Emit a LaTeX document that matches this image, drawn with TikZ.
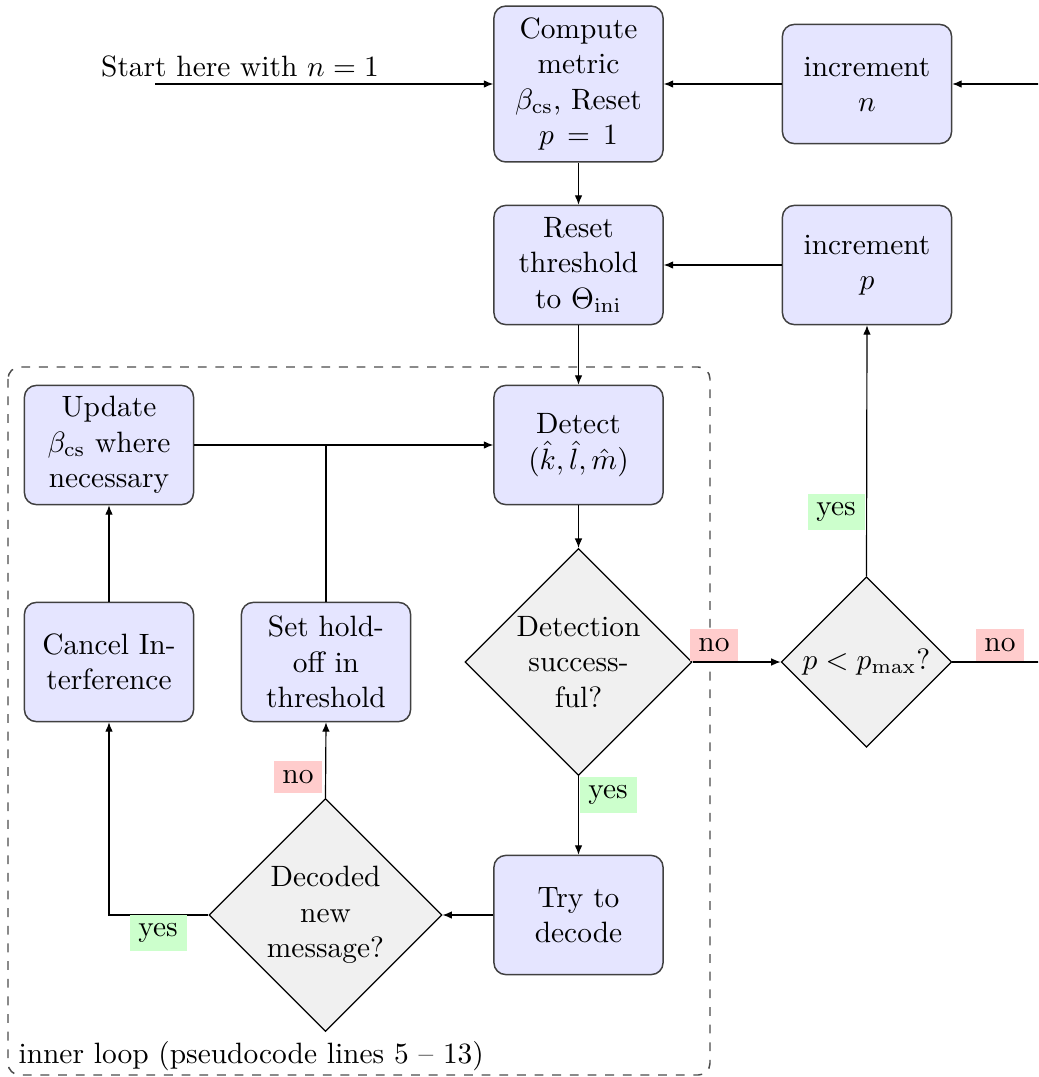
\documentclass[tikz,border=0pt]{standalone}
\usepackage{amsmath}
\usetikzlibrary{shapes.geometric,arrows.meta}
\begin{document}
\begin{tikzpicture}[x=0.34pt,y=-0.34pt,
  blk/.style={rectangle,rounded corners=4pt,draw=black!75,fill=blue!10,line width=0.5pt,align=center,minimum width=57.5pt,minimum height=40.5pt,inner sep=3pt},
  dec/.style={diamond,draw=black,fill=black!6,align=center,inner sep=0pt,line width=0.4pt},
  arr/.style={-{Latex[length=3.2pt,width=2.6pt]}},
  nolab/.style={fill=red!20,inner sep=3pt},
  yeslab/.style={fill=green!20,inner sep=3pt},
  loopbox/.style={dashed,draw=black!70,rounded corners=4pt,line width=0.5pt}]

\useasboundingbox (0,0) rectangle (1038,1077);
\clip (0,0) rectangle (1038,1077);

\draw[loopbox] (8,367) rectangle (710,1075);
\node[anchor=base west,inner sep=0pt] (looplbl) at (18,1063) {inner loop (pseudocode lines 5 -- 13)};

\node[blk,minimum height=53pt] (compute) at (578.5,84) {Compute\\metric\\$\beta_{\mathrm{cs}}$, Reset\\$p\,=\,1$};
\node[blk] (incn) at (867,84) {increment\\$n$};
\node[blk] (reset) at (578.5,265) {Reset\\threshold\\to $\Theta_{\mathrm{ini}}$};
\node[blk] (incp) at (867,265) {increment\\$p$};
\node[blk] (update) at (109,445) {Update\\$\beta_{\mathrm{cs}}$ where\\necessary};
\node[blk] (detect) at (578.5,445) {Detect\\$(\hat{k},\hat{l},\hat{m})$};
\node[blk] (cancel) at (109,662) {Cancel In-\\terference};
\node[blk] (hold) at (326,662) {Set hold-\\off in\\threshold};
\node[blk] (try) at (578.5,915) {Try to\\decode};

\node[dec,minimum width=77.2pt,minimum height=77.2pt] (detsucc) at (578.5,662) {Detection\\success-\\ful?};
\node[dec,minimum width=58pt,minimum height=58pt] (pless) at (866.5,662) {$p<p_{\max}$?};
\node[dec,minimum width=79.2pt,minimum height=79.2pt] (decoded) at (325.5,915) {Decoded\\new\\message?};

\node[inner sep=0pt] (startlbl) at (240,66) {Start here with $n=1$};
\coordinate (start) at (155,84);
\coordinate (rin) at (1040,84);
\coordinate (rout) at (1040,662);

\draw[arr] (start) -- (compute.west);
\draw[arr] (rin) -- (incn.east);
\draw[arr] (incn.west) -- (compute.east);
\draw[arr] (compute.south) -- (reset.north);
\draw[arr] (incp.west) -- (reset.east);
\draw[arr] (reset.south) -- (detect.north);
\draw[arr] (update.east) -- (detect.west);
\draw (hold.north) -- (hold.north |- update.east);
\draw[arr] (detect.south) -- (detsucc.north);
\draw[arr] (detsucc.east) -- (pless.west);
\draw (pless.east) -- (rout);
\draw[arr] (pless.north) -- (incp.south);
\draw[arr] (detsucc.south) -- (try.north);
\draw[arr] (try.west) -- (decoded.east);
\draw[arr] (decoded.north) -- (hold.south);
\draw[arr] (decoded.west) -| (cancel.south);
\draw[arr] (cancel.north) -- (update.south);

\node[nolab] (no1) at (714,645) {no};
\node[yeslab] (yes1) at (836,512) {yes};
\node[nolab] (no2) at (1000,645) {no};
\node[yeslab] (yes2) at (608,795) {yes};
\node[nolab] (no3) at (298,777) {no};
\node[yeslab] (yes3) at (158,933) {yes};
\end{tikzpicture}
\end{document}
